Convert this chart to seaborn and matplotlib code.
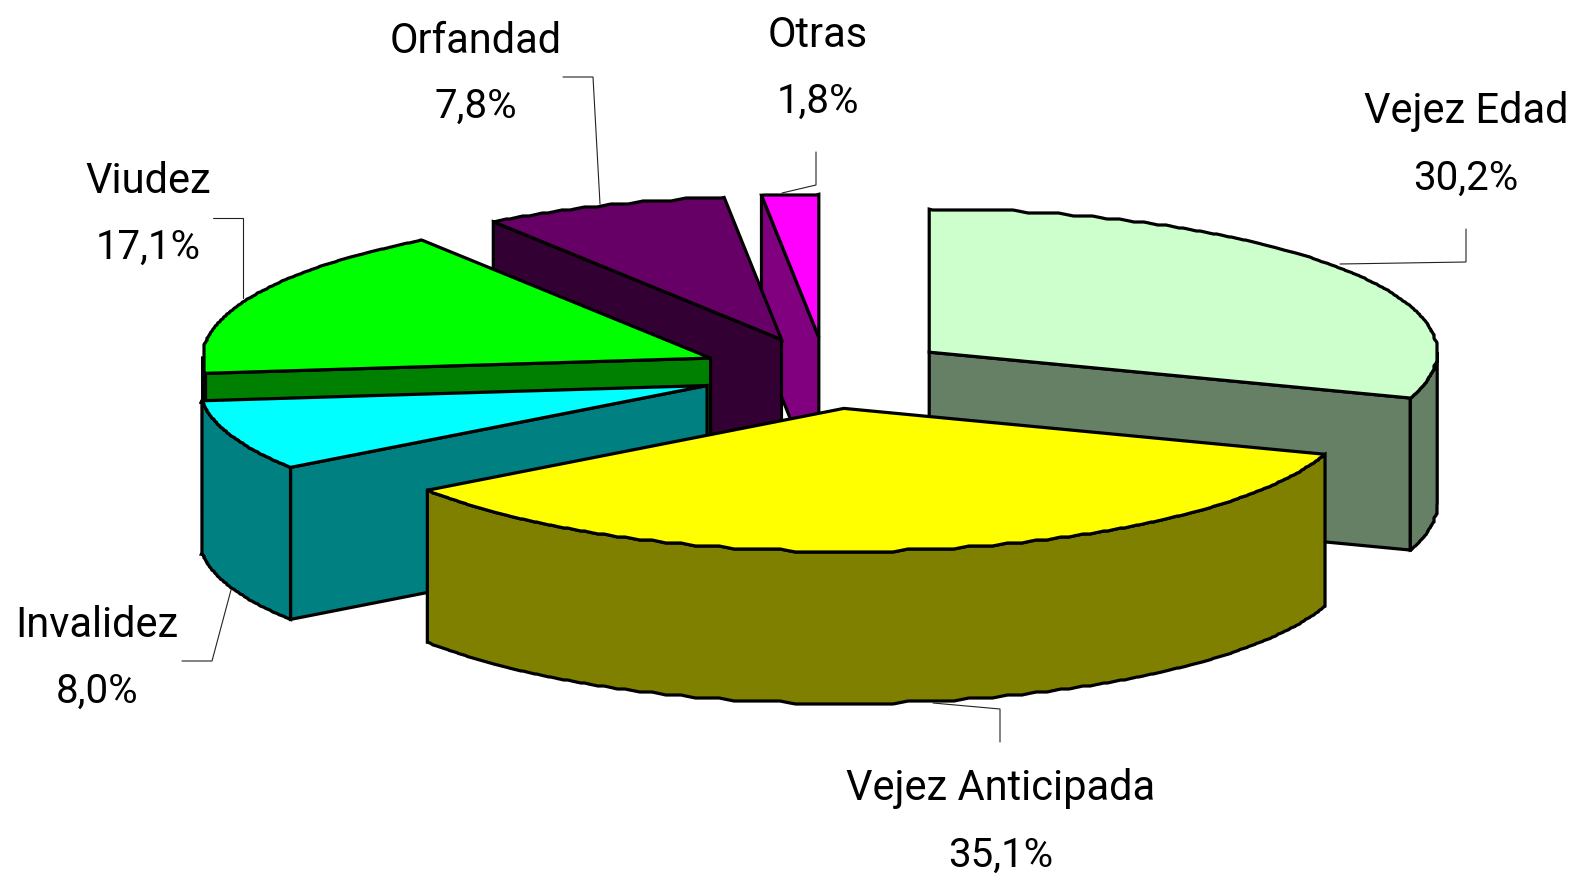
import numpy as np
import seaborn as sns
from matplotlib import pyplot as plt
from matplotlib.patches import Polygon

# clockwise from 12 o'clock
labels = ["Vejez Edad", "Vejez Anticipada", "Invalidez", "Viudez", "Orfandad", "Otras"]
values = [30.2, 35.1, 8.0, 17.1, 7.8, 1.8]
valueLabels = ["30,2%", "35,1%", "8,0%", "17,1%", "7,8%", "1,8%"]
topColors = ["#CCFFCC", "#FFFF00", "#00FFFF", "#00FF00", "#660066", "#FF00FF"]
sideColors = ["#668066", "#808000", "#008080", "#008000", "#330033", "#800080"]

# pie geometry, in pixels
CX, CY = 826, 373
RX, RY = 508, 143
DEPTH = 152
EXPLODE = 0.25
LW = 2.3

# back to front
drawOrder = [5, 4, 0, 3, 2, 1]

labelPos = [(1466, 123, 190), (1001, 800, 867), (97, 637, 703),
            (148, 193, 259), (476, 53, 118), (818, 47, 113)]
leaders = [
    [(1340, 264), (1466, 262), (1466, 229)],
    [(933, 703), (1000, 709), (1000, 742)],
    [(231, 590), (212, 661), (182, 661)],
    [(243, 298), (243, 218), (213, 218)],
    [(600, 204), (593, 77), (563, 77)],
    [(782, 193), (816, 185), (816, 152)],
]


def arcPoints(cx, cy, a0, a1):
    # elliptical arc with the stepped edge of the old chart bitmap
    t = np.radians(np.arange(a0, a1, 0.25))
    t = np.append(t, np.radians(a1))
    x = cx + RX * np.sin(t)
    y = cy - RY * np.cos(t)
    step = 3.0
    xs = np.round(x / step) * step
    ys = np.round(y / step) * step
    if len(t) > 12:
        k = np.ones(7) / 7
        xs2 = np.convolve(np.pad(xs, 3, mode='edge'), k, mode='valid')
        ys2 = np.convolve(np.pad(ys, 3, mode='edge'), k, mode='valid')
        x0, y0, x1, y1 = x[0], y[0], x[-1], y[-1]
        x, y = xs2, ys2
        x[0], y[0], x[-1], y[-1] = x0, y0, x1, y1
    return np.column_stack([x, y])


def addPoly(ax, pts, color):
    ax.add_patch(Polygon(pts, closed=True, facecolor=color, edgecolor='black',
                         linewidth=LW, joinstyle='miter'))


sns.set_theme(style="white")
plt.rcParams['font.family'] = ['Roboto', 'DejaVu Sans']

fig, ax = plt.subplots(figsize=(15.75, 8.73), dpi=100)
fig.subplots_adjust(0, 0, 1, 1)
ax.set_xlim(0, 1575)
ax.set_ylim(873, 0)
ax.axis('off')

edges = np.concatenate([[0], np.cumsum(values)]) / np.sum(values) * 360

for i in drawOrder:
    a0, a1 = edges[i], edges[i + 1]
    mid = np.radians((a0 + a1) / 2)
    cx = CX + EXPLODE * RX * np.sin(mid)
    cy = CY - EXPLODE * RY * np.cos(mid)
    top = arcPoints(cx, cy, a0, a1)
    down = np.array([0, DEPTH])
    apex = np.array([cx, cy])

    # cut faces turned towards the viewer
    if np.sin(np.radians(a0)) < 0:
        addPoly(ax, [apex, top[0], top[0] + down, apex + down], sideColors[i])
    if np.sin(np.radians(a1)) > 0:
        addPoly(ax, [apex, top[-1], top[-1] + down, apex + down], sideColors[i])

    # outer wall: front half of the ellipse only
    w0, w1 = max(a0, 90), min(a1, 270)
    if w1 > w0:
        arc = arcPoints(cx, cy, w0, w1)
        addPoly(ax, np.vstack([arc, (arc + down)[::-1]]), sideColors[i])

    addPoly(ax, np.vstack([apex, top]), topColors[i])

for pts in leaders:
    xs, ys = zip(*pts)
    ax.plot(xs, ys, color='#222222', linewidth=0.8, solid_joinstyle='miter')

for name, val, (x, y1, y2) in zip(labels, valueLabels, labelPos):
    ax.text(x, y1, name, ha='center', va='baseline', fontsize=30, color='black')
    ax.text(x, y2, val, ha='center', va='baseline', fontsize=29, color='black')

plt.savefig('out.png', dpi=100)
